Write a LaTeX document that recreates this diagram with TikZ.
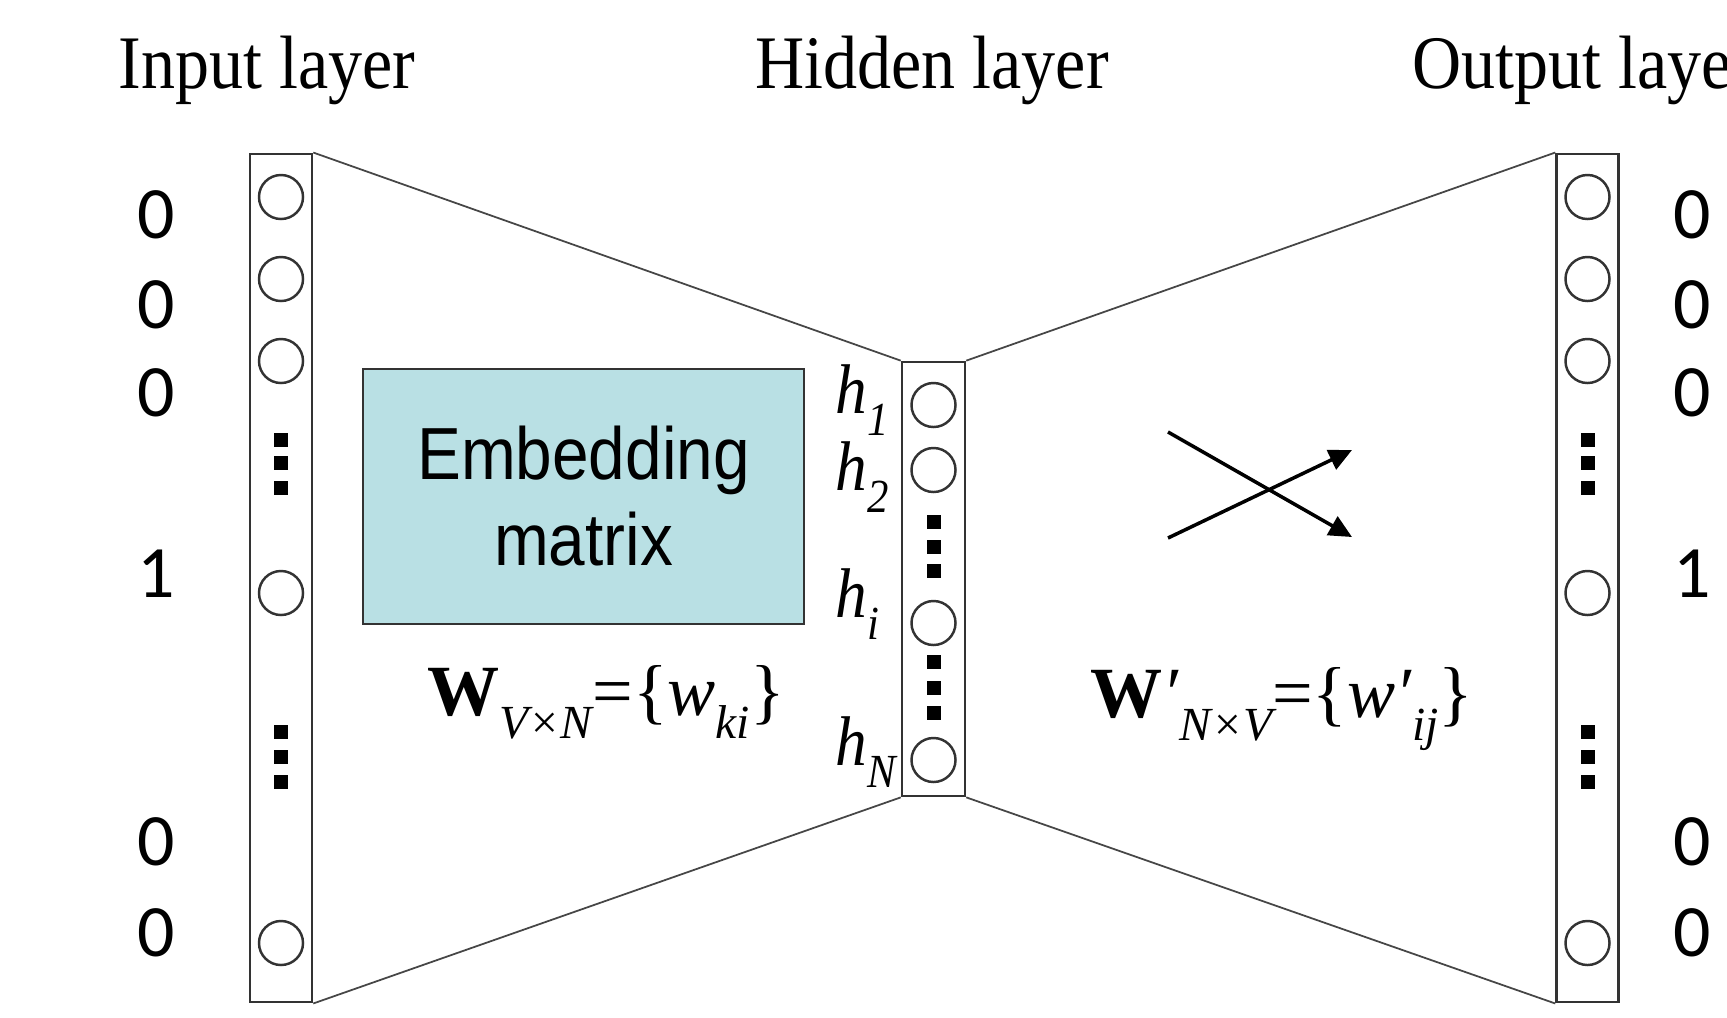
\documentclass[tikz,border=0pt]{standalone}
\usepackage{fontspec}
\usetikzlibrary{arrows.meta}
\newfontfamily\layerfont{Liberation Serif}[FakeStretch=0.9]
\newfontfamily\mathlabfont{Liberation Serif}
\newfontfamily\boxfont{Liberation Sans}[FakeStretch=0.89]
\newfontfamily\bitfont{Carlito}
\definecolor{embedBlue}{RGB}{185,224,228}
\definecolor{lineGray}{RGB}{70,70,70}
\newcommand\lowr[1]{\raisebox{-0.32em}{\fontsize{13.5}{13.5}\selectfont\itshape #1}}

\begin{document}
\begin{tikzpicture}[x=0.01cm, y=-0.01cm,
  neuron/.style={circle, draw=black!80, line width=0.7pt, minimum size=0.44cm, inner sep=0pt},
  dotsq/.style={fill=black, minimum size=0.14cm, inner sep=0pt},
  layerbox/.style={draw=black!80, line width=0.7pt, minimum width=0.62cm, inner sep=0pt},
  bit/.style={font=\bitfont\fontsize{21}{21}\selectfont, inner sep=0pt},
  title/.style={font=\layerfont\fontsize{21.5}{24}\selectfont, inner sep=0pt, anchor=base},
  hlab/.style={font=\layerfont\fontsize{20}{22}\selectfont\itshape, inner sep=0pt, anchor=base west},
  wlab/.style={font=\mathlabfont\fontsize{20.5}{22}\selectfont, inner sep=0pt, anchor=base west}]
\useasboundingbox (0,0) rectangle (1727,1017);

% titles
\node[title] (tin) at (267,88) {Input layer};
\node[title] (thid) at (932,88) {Hidden layer};
\node[title, anchor=base west] (tout) at (1412,88) {Output layer};

% layer columns and the fan between them
\node[layerbox, minimum height=8.48cm] (inbox) at (281,578) {};
\node[layerbox, minimum height=4.34cm, minimum width=0.63cm] (hidbox) at (933.5,579) {};
\node[layerbox, minimum height=8.48cm] (outbox) at (1587.5,578) {};
\draw[lineGray, line width=0.5pt] (inbox.north east) -- (hidbox.north west) (inbox.south east) -- (hidbox.south west);
\draw[lineGray, line width=0.5pt] (hidbox.north east) -- (outbox.north west) (hidbox.south east) -- (outbox.south west);

% one-hot units
\foreach \n/\y in {1/197, 2/279, 3/361, 4/593, 5/943}
  { \node[neuron] (in\n) at (281,\y) {}; \node[neuron] (out\n) at (1587.5,\y) {}; }
\foreach \n/\y in {1/440, 2/463, 3/488, 4/732, 5/757, 6/782}
  { \node[dotsq] (ind\n) at (281,\y) {}; \node[dotsq] (outd\n) at (1587.5,\y) {}; }
\foreach \n/\y/\b in {1/215/0, 2/305/0, 3/393/0, 4/574/1, 5/842/0, 6/933/0}
  { \node[bit] (bin\n) at (156,\y) {\b}; \node[bit] (bout\n) at (1692,\y) {\b}; }

% hidden units
\foreach \n/\y in {1/405, 2/470, i/623, N/760} \node[neuron] (h\n) at (933.5,\y) {};
\foreach \n/\y in {1/522, 2/547, 3/571, 4/662, 5/688, 6/713} \node[dotsq] (hd\n) at (933.5,\y) {};
\node[hlab] (lh1) at (835,413) {h\lowr{1}};
\node[hlab] (lh2) at (835,490) {h\lowr{2}};
\node[hlab] (lhi) at (835,617) {h\lowr{i}};
\node[hlab] (lhN) at (835,765) {h\lowr{N}};

% embedding matrix
\node[draw=black!80, fill=embedBlue, line width=0.5pt, minimum width=4.41cm, minimum height=2.55cm, align=center,
  font=\boxfont\fontsize{21}{24.5}\selectfont] (emb) at (583.5,496.5) {Embedding\\matrix};
\node[wlab] (win) at (427,715) {\textbf{W}\lowr{V×N}=\{\textit{w}\lowr{ki}\}};
\node[wlab] (wout) at (1090,717) {\textbf{W}\textit{′}\lowr{N×V}=\{\textit{w′}\lowr{ij}\}};

% crossing arrows
\coordinate (xa) at (1168,432); \coordinate (xb) at (1352,537);
\coordinate (xc) at (1168,538); \coordinate (xd) at (1352,450);
\draw[-{Triangle[length=6.5pt,width=6pt]}, line width=1pt] (xa) -- (xb);
\draw[-{Triangle[length=6.5pt,width=6pt]}, line width=1pt] (xc) -- (xd);
\end{tikzpicture}
\end{document}
